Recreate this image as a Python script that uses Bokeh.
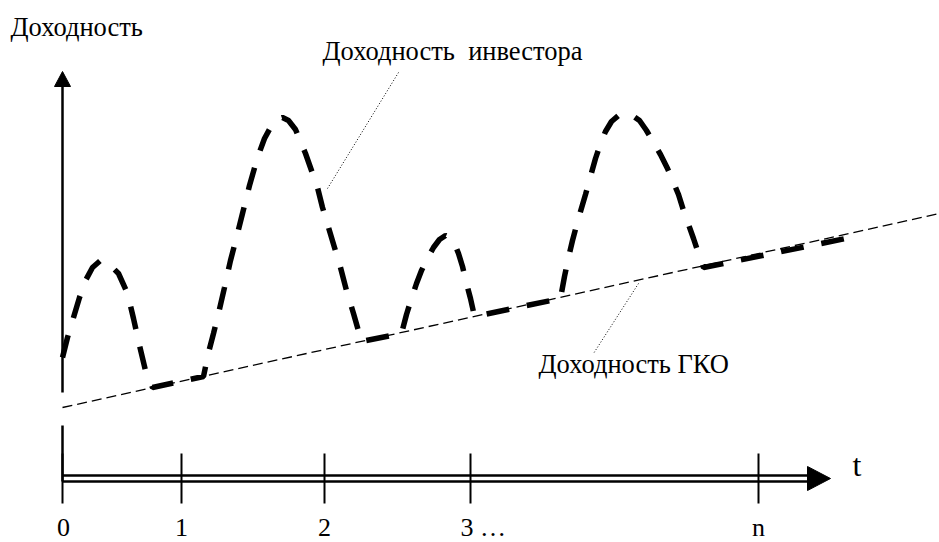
from bokeh.plotting import figure
from bokeh.models import Range1d
from bokeh.embed import file_html
from bokeh.resources import INLINE
from bokeh.core.properties import value

# Schematic coordinates: t grows to the right, yield grows upwards (abstract units)
tick_t = [0, 119, 262, 408, 696]
tick_labels = ["0", "1", "2", "3 …", "n"]

# Government bond (ГКО) yield: a straight, slowly rising line
gko_t = [0, 877]
gko_y = [71, 265]

# Investor yield: humps above the ГКО line, touching it in between
inv_t = [0, 5, 11, 17, 23, 30, 38, 46, 56, 65, 71, 77, 83, 90,
         141, 146, 151, 156, 162, 168, 174, 180, 187, 195, 202, 208, 214, 220,
         226, 233, 243, 249, 255, 260, 266, 272, 278, 284, 291, 295, 299,
         339, 344, 349, 354, 359, 365, 371, 377, 383, 388, 392, 396, 400, 404, 408, 412,
         498, 502, 506, 510, 514, 518, 523, 528, 533, 538, 543, 549, 556, 563,
         570, 577, 584, 591, 598, 605, 611, 616, 621, 626, 631, 636, 641,
         793]
inv_y = [121, 141, 161, 181, 198, 211, 218, 215, 205, 185, 160, 133, 108, 91,
         102, 126, 145, 165, 191, 218, 241, 265, 293, 321, 340, 351, 359, 361,
         358, 349, 325, 308, 291, 271, 251, 231, 211, 188, 165, 151, 137,
         145, 164, 180, 195, 208, 220, 231, 239, 243, 241, 235, 225, 212, 195, 180, 162,
         180, 202, 221, 238, 253, 267, 284, 302, 320, 335, 347, 357, 363, 365,
         363, 358, 348, 336, 324, 310, 296, 284, 268, 254, 240, 225, 211,
         242]

FONT = value("Liberation Serif")
LIFT = 9  # baseline correction for the captions

p = figure(width=939, height=542, x_range=Range1d(-62, 877), y_range=Range1d(-64, 478),
           output_backend="svg", toolbar_location=None, min_border=0,
           x_axis_location=None, y_axis_location=None)
p.grid.visible = False
p.outline_line_color = None
p.background_fill_color = "white"
p.border_fill_color = "white"

# time axis: double line with an arrow head
t_end = 745
p.segment(x0=[0, 0], y0=[3, -3], x1=[t_end, t_end], y1=[3, -3], line_color="black", line_width=2.6)
p.patch(x=[t_end, 768, t_end], y=[12, 0, -12], fill_color="black", line_color="black")

# yield axis with a break near the bottom
p.segment(x0=[0, 0], y0=[392, 53], x1=[0, 0], y1=[86, -3], line_color="black", line_width=2.5)
p.patch(x=[-8, 0, 8], y=[392, 407, 392], fill_color="black", line_color="black")

# tick marks
p.segment(x0=tick_t, y0=[25] * len(tick_t), x1=tick_t, y1=[-25] * len(tick_t),
          line_color="black", line_width=2)

# tick labels
label_y = -58 + LIFT
plain = [i for i, s in enumerate(tick_labels) if "…" not in s]
p.text(x=[tick_t[i] + (1 if i == 0 else 0) for i in plain], y=[label_y] * len(plain),
       text=[tick_labels[i] for i in plain], text_font=FONT, text_font_size="26px",
       text_align="center", text_baseline="alphabetic", text_color="black")
dots = [i for i, s in enumerate(tick_labels) if "…" in s]
p.text(x=[tick_t[i] - 10 for i in dots], y=[label_y] * len(dots),
       text=[tick_labels[i] for i in dots], text_font=FONT, text_font_size="26px",
       text_align="left", text_baseline="alphabetic", text_color="black")

# ГКО yield line
p.line(gko_t, gko_y, line_color="black", line_width=1.3, line_dash="10 5")

# investor yield curve
p.line(inv_t, inv_y, line_color="black", line_width=5.5, line_dash="23 18")

# leader lines from the captions
p.line([336, 265], [406, 290], line_color="black", line_width=1, line_dash="1 2")
p.line([576, 531], [195, 125], line_color="black", line_width=1, line_dash="1 2")

# captions
p.text(x=[-52], y=[443 + LIFT], text=["Доходность"], text_font=FONT,
       text_font_size="26.5px", text_baseline="alphabetic", text_color="black")
p.text(x=[260], y=[419 + LIFT], text=["Доходность\u00a0 инвестора"], text_font=FONT,
       text_font_size="26.5px", text_baseline="alphabetic", text_color="black")
p.text(x=[476], y=[106 + LIFT], text=["Доходность ГКО"], text_font=FONT,
       text_font_size="26.5px", text_baseline="alphabetic", text_color="black")
p.text(x=[790], y=[5 + LIFT], text=["t"], text_font=FONT, text_font_size="32px",
       text_baseline="alphabetic", text_color="black")

open("out.html", "w").write(file_html(p, INLINE))
